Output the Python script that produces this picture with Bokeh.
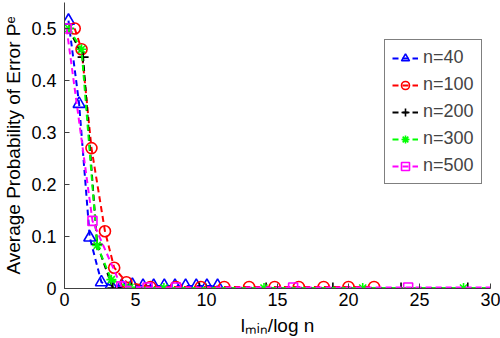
import math
from bokeh.plotting import figure
from bokeh.models import Range1d, FixedTicker, Legend, LegendItem
from bokeh.embed import file_html
from bokeh.resources import INLINE

# ---- data ----
series_names = ["n=40", "n=100", "n=200", "n=300", "n=500"]
x_n40 = [0.28, 1.03, 1.78, 2.6, 3.28, 4.03, 4.78, 5.53, 6.28, 7.03, 7.78, 8.53, 9.28, 10.03, 10.78]
y_n40 = [0.515, 0.355, 0.098, 0.012, 0.006, 0.005, 0.007, 0.005, 0.005, 0.005, 0.005, 0.005, 0.005, 0.005, 0.005]
x_n100 = [0.72, 1.2, 1.9, 2.85, 3.5, 4.36, 6.05, 7.85, 9.6, 11.25, 13.0, 14.8, 16.5, 18.25, 20.0, 21.8]
y_n100 = [0.5, 0.46, 0.27, 0.11, 0.04, 0.012, 0.003, 0.003, 0.003, 0.003, 0.003, 0.003, 0.003, 0.003, 0.003, 0.003]
x_n200 = [0.3, 1.31, 2.3, 3.4, 4.7, 9.5, 14.2, 18.9, 23.7, 28.4]
y_n200 = [0.5, 0.445, 0.085, 0.001, 0.001, 0.001, 0.001, 0.001, 0.001, 0.001]
x_n300 = [0.3, 1.2, 2.3, 3.3, 4.6, 7.0, 14.05, 21.0, 28.1, 35.0]
y_n300 = [0.5, 0.46, 0.083, 0.017, 0.002, 0.001, 0.001, 0.001, 0.001, 0.001]
x_n500 = [0.15, 1.97, 4.0, 5.85, 7.85, 16.1, 24.2, 32.3]
y_n500 = [0.5, 0.13, 0.004, 0.002, 0.002, 0.002, 0.002, 0.002]
x_ticks = [0, 5, 10, 15, 20, 25, 30]
y_ticks = [0, 0.1, 0.2, 0.3, 0.4, 0.5]
y_tick_labels = ["0", "0.1", "0.2", "0.3", "0.4", "0.5"]
x_label = "l\u2098\u1d62\u2099/log n"
y_label = "Average Probability of Error P\u1d49"

FONT = "Liberation Sans"

p = figure(width=500, height=338, output_backend="svg", toolbar_location=None,
           x_range=Range1d(0, 30), y_range=Range1d(0, 0.55),
           min_border_left=63, min_border_right=10, min_border_top=2, min_border_bottom=50)
p.outline_line_color = None
p.grid.visible = False
p.background_fill_color = "white"

for ax in (p.xaxis, p.yaxis):
    ax.major_tick_in = 5
    ax.major_tick_out = 0
    ax.minor_tick_line_color = None
    ax.axis_line_color = "#404040"
    ax.major_tick_line_color = "#404040"
    ax.major_label_text_font = FONT
    ax.major_label_text_font_size = "18px"
    ax.major_label_text_color = "black"
    ax.axis_label_text_font = FONT
    ax.axis_label_text_font_size = "19px"
    ax.axis_label_text_font_style = "normal"
    ax.axis_label_text_color = "black"
p.xaxis.ticker = FixedTicker(ticks=x_ticks)
p.yaxis.ticker = FixedTicker(ticks=y_ticks)
p.yaxis.major_label_overrides = {t: s for t, s in zip(y_ticks, y_tick_labels)}
p.xaxis.major_label_standoff = 4
p.yaxis.major_label_standoff = 8
p.xaxis.axis_label = x_label
p.yaxis.axis_label = y_label
p.xaxis.axis_label_standoff = 6
p.yaxis.axis_label_standoff = 4

styles = [
    (x_n40, y_n40, "#0000ff", "triangle", 12),
    (x_n100, y_n100, "#ff0000", "circle", 11),
    (x_n200, y_n200, "#000000", "cross", 11),
    (x_n300, y_n300, "#00ff00", "asterisk", 10),
    (x_n500, y_n500, "#ff00ff", "square", 9),
]

items = []
for name, (xs, ys, col, mk, sz) in zip(series_names, styles):
    r1 = p.line(xs, ys, line_color=col, line_width=2, line_dash="6 4")
    r2 = p.scatter(xs, ys, marker=mk, size=sz, line_color=col, fill_color=None, line_width=1.6)
    items.append(LegendItem(label=name, renderers=[r1, r2]))

legend = Legend(items=items, location=(320, 104))
legend.label_text_font = FONT
legend.label_text_font_size = "18px"
legend.glyph_width = 26
legend.glyph_height = 20
legend.label_height = 20
legend.spacing = 6
legend.padding = 7
legend.margin = 0
legend.border_line_color = "black"
legend.border_line_width = 1
legend.background_fill_alpha = 1
p.add_layout(legend)

open("out.html", "w").write(file_html(p, INLINE))
